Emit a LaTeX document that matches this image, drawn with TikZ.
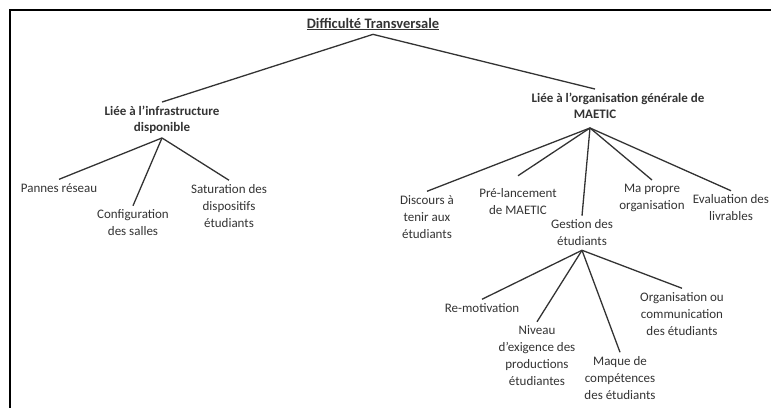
\documentclass[tikz,border=0pt]{standalone}
\usepackage{fontspec}
\setmainfont{Carlito}
\usepackage{tikz}
\usepackage{xcolor}
\definecolor{inkgray}{HTML}{333333}

\begin{document}
\begin{tikzpicture}[x=1pt, y=-1pt, font=\fontsize{13}{17}\selectfont,
    every node/.style={inner xsep=2pt, inner ysep=4pt, align=center, text=inkgray},
    head/.style={font=\fontsize{13}{16}\selectfont\bfseries},
    branch/.style={draw=inkgray, line width=1.3pt}]
\useasboundingbox (0,0) rectangle (771,408);
\draw[line width=2pt, black] (771,10) -- (10,10) -- (10,408);

\node[head, font=\fontsize{14.5}{16}\selectfont\bfseries] (title) at (373,24) {\underline{Difficulté Transversale}};
\node[head] (infra) at (162,120) {Liée à l’infrastructure\\disponible};
\node[head] (orga) at (595,106) {\hspace*{46pt}Liée à l’organisation générale de\\MAETIC};

\node (pannes) at (59,188) {Pannes réseau};
\node (config) at (133,223) {Configuration\\des salles};
\node (satur) at (229,206) {Saturation des\\dispositifs\\étudiants};

\node (discours) at (427,217) {Discours à\\tenir aux\\étudiants};
\node (prelanc) at (518,202) {Pré-lancement\\de MAETIC};
\node (gestion) at (582,233) {Gestion des\\étudiants};
\node (propre) at (652,198) {Ma propre\\organisation};
\node (evalu) at (731,208) {Evaluation des\\livrables};

\node (remotiv) at (482,308) {Re-motivation};
\node (niveau) at (537,356) {Niveau\\d’exigence des\\productions\\étudiantes};
\node (maque) at (620,378) {Maque de\\compétences\\des étudiants};
\node (orgcomm) at (682,314) {Organisation ou\\communication\\des étudiants};

\draw[branch] (title.south) -- (infra.north);
\draw[branch] (title.south) -- (orga.north);

\draw[branch] (infra.south) -- (pannes.north);
\draw[branch] (infra.south) -- (config.north);
\draw[branch] (infra.south) -- (satur.north);

% apex sits a little under MAETIC
\draw[branch] ([shift={(-5pt,-5pt)}]orga.south) -- (discours.north);
\draw[branch] ([shift={(-5pt,-5pt)}]orga.south) -- ([yshift=9pt]prelanc.north);
\draw[branch] ([shift={(-5pt,-5pt)}]orga.south) -- (gestion.north);
\draw[branch] ([shift={(-5pt,-5pt)}]orga.south) -- (propre.north);
\draw[branch] ([shift={(-5pt,-5pt)}]orga.south) -- (evalu.north);

\draw[branch] (gestion.south) -- (remotiv.north);
\draw[branch] (gestion.south) -- (niveau.north);
\draw[branch] (gestion.south) -- (maque.north);
\draw[branch] (gestion.south) -- (orgcomm.north);
\end{tikzpicture}
\end{document}
